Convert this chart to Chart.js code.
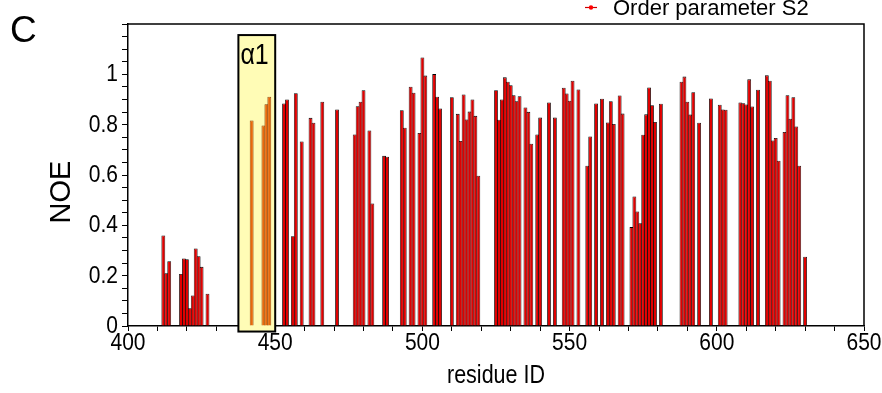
<!DOCTYPE html>
<html>
<head>
<meta charset="utf-8">
<script src="https://cdn.jsdelivr.net/npm/chart.js@4.4.1/dist/chart.umd.min.js"></script>
<style>
  html, body { margin: 0; padding: 0; background: #fff; }
  #wrap { width: 882px; height: 393px; }
</style>
</head>
<body>
<div id="wrap"><canvas id="chartNoe" width="882" height="393"></canvas></div>
<script>
// ── Data ──
const residueIds = [
  412, 413, 414, 418, 419, 420, 421, 422, 423, 424, 425, 427,
  453, 454, 456, 457, 459, 462, 463, 466, 471, 477, 478, 479, 480, 482, 483, 487, 488,
  493, 494, 496, 497, 499, 500, 501, 504, 505, 506, 510, 512, 513, 514, 515, 516, 517, 518, 519,
  525, 526, 527, 528, 529, 530, 531, 532, 533, 535, 536, 537, 539, 540, 543, 545,
  548, 549, 550, 551, 553, 556, 557, 559, 561, 563, 564, 565, 567, 568,
  571, 572, 573, 574, 575, 576, 577, 578, 579, 581,
  588, 589, 590, 591, 592, 594, 598, 601, 602, 603, 608, 609, 610, 611, 612, 614,
  617, 618, 619, 620, 621, 623, 624, 625, 626, 627, 628, 630
];
const noeValues = [
  0.36, 0.21, 0.257, 0.207, 0.268, 0.265, 0.071, 0.121, 0.308, 0.277, 0.235, 0.128,
  0.884, 0.90, 0.357, 0.925, 0.733, 0.827, 0.808, 0.891, 0.86, 0.761, 0.873, 0.891, 0.937, 0.777, 0.487, 0.676, 0.673,
  0.857, 0.788, 0.951, 0.927, 0.767, 1.067, 0.995, 1.001, 0.911, 0.864, 0.909, 0.843, 0.735, 0.92, 0.821, 0.852, 0.90, 0.835, 0.597,
  0.937, 0.82, 0.90, 0.988, 0.971, 0.957, 0.917, 0.893, 0.913, 0.868, 0.851, 0.724, 0.761, 0.828, 0.888, 0.828,
  0.947, 0.924, 0.895, 0.975, 0.94, 0.637, 0.753, 0.884, 0.903, 0.809, 0.893, 0.803, 0.916, 0.844,
  0.393, 0.515, 0.455, 0.408, 0.76, 0.841, 0.948, 0.877, 0.811, 0.883,
  0.971, 0.991, 0.891, 0.84, 0.929, 0.808, 0.904, 0.879, 0.86, 0.859, 0.888, 0.885, 0.88, 0.98, 0.872, 0.939,
  0.996, 0.975, 0.737, 0.747, 0.657, 0.771, 0.917, 0.824, 0.909, 0.793, 0.637, 0.275
];
// α1 helix residues (orange bars)
const helixIds    = [442, 446, 447, 448];
const helixValues = [0.817, 0.797, 0.881, 0.911];
const helixSpan   = [437.5, 450];     // residue range of the shaded box
const helixBoxY   = [-0.022, 1.156];  // NOE range of the shaded box

const xTickLabels = ['400', '450', '500', '550', '600', '650'];
const yTickLabels = ['0', '0.2', '0.4', '0.6', '0.8', '1'];

const SANS = "'Liberation Sans', Arial, sans-serif";
const STRETCH = 1.18;   // the source figure's text is drawn taller than wide

// text drawn a little taller than wide, like the original export
function tallText(ctx, text, x, y, size, align) {
  ctx.save();
  ctx.translate(x, y);
  ctx.scale(1, STRETCH);
  ctx.font = `${size}px ${SANS}`;
  ctx.textAlign = align;
  ctx.textBaseline = 'middle';
  ctx.fillText(text, 0, 0);
  ctx.restore();
}

// ── Extra drawing: helix box, frame, labels, legend ──
const decorations = {
  id: 'decorations',
  beforeDatasetsDraw(chart) {
    const { ctx, scales: { x, y } } = chart;
    const l = x.getPixelForValue(helixSpan[0]);
    const r = x.getPixelForValue(helixSpan[1]);
    const t = y.getPixelForValue(helixBoxY[1]);
    const b = y.getPixelForValue(helixBoxY[0]);
    ctx.save();
    ctx.fillStyle = '#fffcb6';
    ctx.fillRect(l, t, r - l, b - t);
    ctx.strokeStyle = '#000';
    ctx.lineWidth = 2;
    ctx.strokeRect(l, t, r - l, b - t);
    ctx.fillStyle = '#000';
    tallText(ctx, 'α1', l + 2, t + 21, 25, 'left');
    ctx.restore();
  },
  afterDraw(chart) {
    const { ctx, chartArea: a, scales: { x, y } } = chart;
    ctx.save();
    // top + right frame
    ctx.strokeStyle = '#000';
    ctx.lineWidth = 1.5;
    ctx.beginPath();
    ctx.moveTo(a.left, a.top);
    ctx.lineTo(a.right, a.top);
    ctx.lineTo(a.right, a.bottom);
    ctx.stroke();

    // tick labels
    ctx.fillStyle = '#000';
    x.ticks.forEach(t => {
      if (t.label) tallText(ctx, t.label, x.getPixelForValue(t.value), a.bottom + 17, 21, 'center');
    });
    y.ticks.forEach(t => {
      if (t.label) tallText(ctx, t.label, a.left - 10, y.getPixelForValue(t.value), 21, 'right');
    });

    // axis titles
    tallText(ctx, 'residue ID', (a.left + a.right) / 2, 376, 21.5, 'center');
    ctx.save();
    ctx.translate(62, 192);
    ctx.rotate(-Math.PI / 2);
    ctx.font = `29px ${SANS}`;
    ctx.textAlign = 'center';
    ctx.textBaseline = 'middle';
    ctx.fillText('NOE', 0, 0);
    ctx.restore();

    // panel letter
    ctx.font = `37px ${SANS}`;
    ctx.textBaseline = 'alphabetic';
    ctx.fillText('C', 10, 42);

    // legend
    ctx.strokeStyle = '#cc0000';
    ctx.lineWidth = 1.2;
    ctx.beginPath();
    ctx.moveTo(585, 7.5);
    ctx.lineTo(597, 7.5);
    ctx.stroke();
    ctx.fillStyle = '#ff0000';
    ctx.beginPath();
    ctx.arc(591, 7.5, 2.2, 0, Math.PI * 2);
    ctx.fill();
    ctx.fillStyle = '#000';
    ctx.font = `22px ${SANS}`;
    ctx.fillText('Order parameter S2', 613, 15);
    ctx.restore();
  }
};

const axisGrid = {
  drawOnChartArea: false,
  drawTicks: true,
  tickLength: 5,
  tickColor: '#000',
  color: '#000'
};

new Chart(document.getElementById('chartNoe'), {
  type: 'bar',
  data: {
    datasets: [
      {
        label: 'NOE',
        data: residueIds.map((r, i) => ({ x: r, y: noeValues[i] })),
        backgroundColor: '#e00000',
        borderColor: '#000',
        borderWidth: 0.8,
        grouped: false,
        barPercentage: 1.3,
        categoryPercentage: 1
      },
      {
        label: 'α1',
        data: helixIds.map((r, i) => ({ x: r, y: helixValues[i] })),
        backgroundColor: '#e8680c',
        borderColor: '#7a3606',
        borderWidth: 0.8,
        grouped: false,
        barPercentage: 1.3,
        categoryPercentage: 1
      }
    ]
  },
  options: {
    responsive: false,
    animation: false,
    devicePixelRatio: 1,
    layout: { padding: { top: 24, right: 18, bottom: 0, left: 0 } },
    plugins: {
      legend: { display: false },
      tooltip: { enabled: false }
    },
    scales: {
      x: {
        type: 'linear',
        min: 400,
        max: 650,
        offset: false,
        grid: { ...axisGrid, offset: false },
        border: { color: '#000', width: 1.5 },
        ticks: {
          display: false,
          stepSize: 10,
          autoSkip: false,
          maxRotation: 0,
          minRotation: 0,
          callback: v => xTickLabels.includes(String(v)) ? String(v) : ''
        },
        afterFit: s => { s.height = 67; }
      },
      y: {
        min: 0,
        max: 1.2,
        grid: { ...axisGrid, tickLength: 6 },
        border: { color: '#000', width: 1.5 },
        ticks: {
          display: false,
          stepSize: 0.05,
          autoSkip: false,
          callback: v => yTickLabels.find(t => Math.abs(Number(t) - v) < 1e-6) || ''
        },
        afterFit: s => { s.width = 128; }
      }
    }
  },
  plugins: [decorations]
});
</script>
</body>
</html>
